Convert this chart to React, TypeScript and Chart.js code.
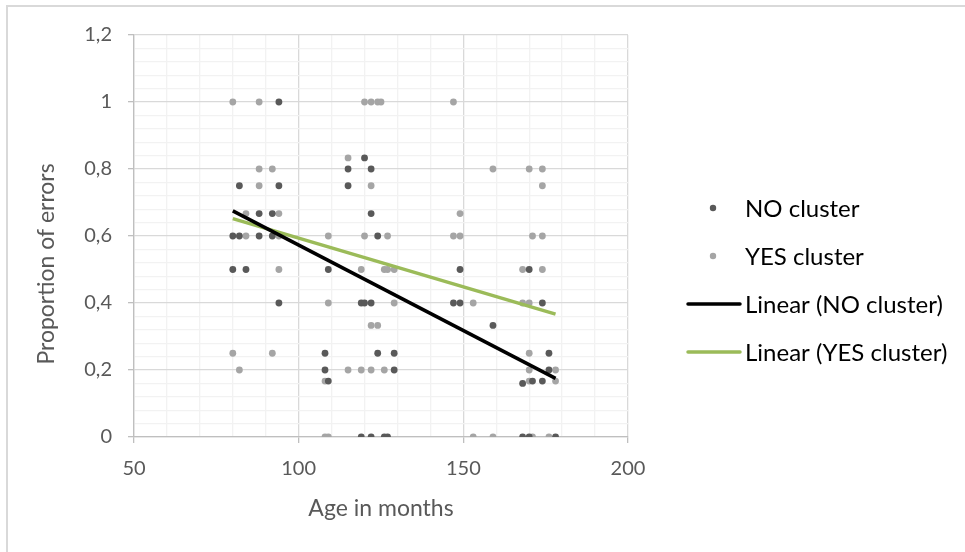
import React, { useEffect, useRef } from "react";
import { Chart, registerables } from "chart.js";

Chart.register(...registerables);

// ---- Data ----
const noClusterX = [
  94, 82, 94, 88, 92, 80, 82, 88, 92, 80, 84, 94,
  120, 115, 122, 115, 122, 124, 109, 149,
  119, 120, 122, 147, 149, 108, 124, 129, 108, 129, 109,
  119, 122, 126, 127,
  170, 174, 159, 176, 176, 168, 171, 174, 168, 170, 178,
];
const noClusterY = [
  1, 0.75, 0.75, 0.667, 0.667, 0.6, 0.6, 0.6, 0.6, 0.5, 0.5, 0.4,
  0.833, 0.8, 0.8, 0.75, 0.667, 0.6, 0.5, 0.5,
  0.4, 0.4, 0.4, 0.4, 0.4, 0.25, 0.25, 0.25, 0.2, 0.2, 0.167,
  0, 0, 0, 0,
  0.5, 0.4, 0.333, 0.25, 0.2, 0.16, 0.167, 0.167, 0, 0, 0,
];
const yesClusterX = [
  80, 88, 120, 122, 124, 125, 147,
  88, 92, 115, 159, 170, 174,
  88, 122, 174,
  84, 94, 149,
  84, 94, 109, 120, 127, 147, 149, 171, 174,
  94, 119, 126, 127, 129, 168, 174,
  109, 129, 153, 168, 170,
  122, 124,
  80, 92, 170,
  82, 115, 119, 122, 126, 170, 178,
  108, 170, 178,
  108, 109, 153, 159, 171, 176,
];
const yesClusterY = [
  1, 1, 1, 1, 1, 1, 1,
  0.8, 0.8, 0.833, 0.8, 0.8, 0.8,
  0.75, 0.75, 0.75,
  0.667, 0.667, 0.667,
  0.6, 0.6, 0.6, 0.6, 0.6, 0.6, 0.6, 0.6, 0.6,
  0.5, 0.5, 0.5, 0.5, 0.5, 0.5, 0.5,
  0.4, 0.4, 0.4, 0.4, 0.4,
  0.333, 0.333,
  0.25, 0.25, 0.25,
  0.2, 0.2, 0.2, 0.2, 0.2, 0.2, 0.2,
  0.167, 0.167, 0.167,
  0, 0, 0, 0, 0, 0,
];
const trendX = [80, 178];
const trendNoY = [0.675, 0.175];
const trendYesY = [0.652, 0.367];

const seriesLabels = ["NO cluster", "YES cluster", "Linear (NO cluster)", "Linear (YES cluster)"];
const xTitle = "Age in months";
const yTitle = "Proportion of errors";

const FONT = "Lato, 'Noto Sans', sans-serif";

const pts = (xs: number[], ys: number[]) => xs.map((x, i) => ({ x, y: ys[i] }));

const isMult = (v: number, m: number) => Math.abs(v / m - Math.round(v / m)) < 1e-6;

const overlayPlugin = {
  id: "overlay",
  afterDraw(chart: any) {
    const { ctx } = chart;
    ctx.save();
    // axis titles
    ctx.fillStyle = "#595959";
    ctx.font = `23px ${FONT}`;
    ctx.textAlign = "center";
    ctx.textBaseline = "middle";
    ctx.fillText(xTitle, 381, 509);
    ctx.save();
    ctx.translate(47, 264);
    ctx.rotate(-Math.PI / 2);
    ctx.fillText(yTitle, 0, 0);
    ctx.restore();

    // legend
    const ds = chart.data.datasets;
    const rows = [208, 256, 304, 352];
    ctx.font = `24px ${FONT}`;
    ctx.textAlign = "left";
    ds.forEach((d: any, i: number) => {
      const y = rows[i];
      if (d.showLine) {
        ctx.strokeStyle = d.borderColor;
        ctx.lineWidth = 3.5;
        ctx.lineCap = "round";
        ctx.beginPath();
        ctx.moveTo(688, y);
        ctx.lineTo(740, y);
        ctx.stroke();
      } else {
        ctx.fillStyle = d.backgroundColor;
        ctx.beginPath();
        ctx.arc(713, y, 3.2, 0, Math.PI * 2);
        ctx.fill();
      }
      ctx.fillStyle = "#000000";
      ctx.fillText(d.label, 745, y + 1);
    });
    ctx.restore();
  },
};

export default function App() {
  const ref = useRef<HTMLCanvasElement | null>(null);
  useEffect(() => {
    if (!ref.current) return;
    const chart = new Chart(ref.current, {
      type: "scatter",
      data: {
        datasets: [
          {
            label: seriesLabels[0],
            data: pts(noClusterX, noClusterY),
            backgroundColor: "#595959",
            borderColor: "#595959",
            pointRadius: 3.4,
            borderWidth: 0,
            order: 2,
          },
          {
            label: seriesLabels[1],
            data: pts(yesClusterX, yesClusterY),
            backgroundColor: "#a5a5a5",
            borderColor: "#a5a5a5",
            pointRadius: 3.4,
            borderWidth: 0,
            order: 2,
          },
          {
            label: seriesLabels[2],
            data: pts(trendX, trendNoY),
            showLine: true,
            borderColor: "#000000",
            backgroundColor: "#000000",
            borderWidth: 3.5,
            pointRadius: 0,
            order: 0,
          },
          {
            label: seriesLabels[3],
            data: pts(trendX, trendYesY),
            showLine: true,
            borderColor: "#9bbb59",
            backgroundColor: "#9bbb59",
            borderWidth: 3.5,
            pointRadius: 0,
            order: 1,
          },
        ] as any,
      },
      options: {
        animation: false,
        responsive: false,
        devicePixelRatio: 1,
        layout: { padding: { left: 0, top: 35, right: 337, bottom: 55 } },
        plugins: { legend: { display: false }, tooltip: { enabled: false } },
        scales: {
          x: {
            type: "linear",
            min: 50,
            max: 200,
            afterFit: (s: any) => {
              s.height = 60;
            },
            ticks: {
              stepSize: 10,
              autoSkip: false,
              maxRotation: 0,
              padding: 14,
              color: "#595959",
              font: { family: FONT, size: 20 },
              callback: (v: any) => (isMult(Number(v), 50) ? String(v) : ""),
            },
            grid: {
              color: (c: any) => (isMult(c.tick.value, 50) ? "#d9d9d9" : "#f2f2f2"),
              tickColor: (c: any) => (isMult(c.tick.value, 50) ? "#bfbfbf" : "rgba(0,0,0,0)"),
              tickLength: 6,
              lineWidth: 1.3,
            },
            border: { color: "#bfbfbf", width: 1.3 },
          },
          y: {
            type: "linear",
            min: 0,
            max: 1.2,
            afterFit: (s: any) => {
              s.width = 134;
            },
            ticks: {
              stepSize: 0.04,
              autoSkip: false,
              padding: 16,
              color: "#595959",
              font: { family: FONT, size: 20 },
              callback: (v: any) =>
                isMult(Number(v), 0.2) ? String(Math.round(Number(v) * 10) / 10).replace(".", ",") : "",
            },
            grid: {
              color: (c: any) => (isMult(c.tick.value, 0.2) ? "#d9d9d9" : "#f2f2f2"),
              tickColor: (c: any) => (isMult(c.tick.value, 0.2) ? "#bfbfbf" : "rgba(0,0,0,0)"),
              tickLength: 6,
              lineWidth: 1.3,
            },
            border: { color: "#bfbfbf", width: 1.3 },
          },
        },
      } as any,
      plugins: [overlayPlugin],
    });
    return () => chart.destroy();
  }, []);

  return (
    <div style={{ position: "fixed", left: 0, top: 0, width: 965, height: 552, background: "#fff", overflow: "hidden" }}>
      <div
        style={{
          position: "absolute",
          left: 6,
          top: 5,
          width: 1000,
          height: 600,
          borderLeft: "2px solid #d9d9d9",
          borderTop: "2px solid #d9d9d9",
        }}
      />
      <canvas ref={ref} width={965} height={552} style={{ position: "absolute", left: 0, top: 0, width: 965, height: 552 }} />
    </div>
  );
}
